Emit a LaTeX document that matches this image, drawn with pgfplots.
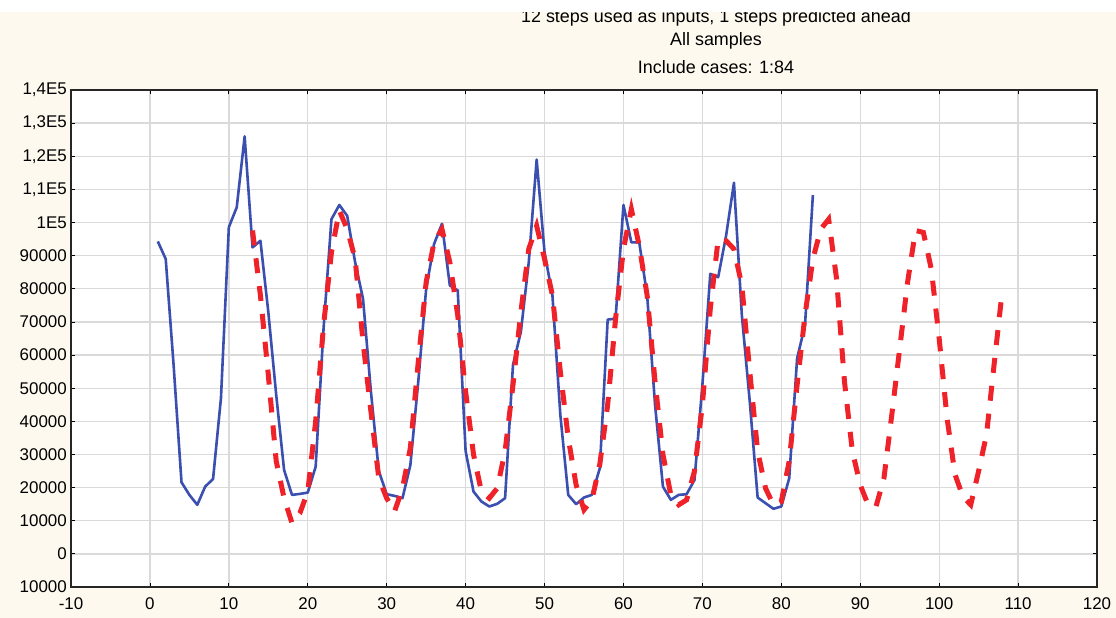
\documentclass[border=0pt]{standalone}
\usepackage{pgfplots}
\pgfplotsset{compat=1.18}
\usepackage{fontspec}
\setmainfont{Liberation Sans}
\definecolor{cream}{HTML}{FEF9EE}
\definecolor{blueline}{HTML}{3A4FAF}
\definecolor{redline}{HTML}{EE2228}
\definecolor{gridc}{HTML}{DADADA}
\pgfplotstableread{
x y
1 94300
2 89000
3 57000
4 21600
5 17800
6 14800
7 20300
8 22600
9 47000
10 98600
11 104600
12 126000
13 92500
14 94500
15 73000
16 48000
17 25300
18 17800
19 18100
20 18500
21 26300
22 68000
23 101000
24 105300
25 102000
26 88000
27 77000
28 49000
29 25000
30 18000
31 17500
32 16800
33 26800
34 52000
35 80000
36 93500
37 99600
38 81000
39 79500
40 31000
41 18800
42 15800
43 14300
44 15100
45 16800
46 57000
47 67000
48 88000
49 119000
50 91000
51 78000
52 42000
53 17800
54 15000
55 17000
56 17800
57 25800
58 70700
59 71000
60 105300
61 94000
62 94000
63 78000
64 45000
65 20300
66 16300
67 17800
68 18000
69 22300
70 51000
71 84500
72 83500
73 96000
74 112000
75 72000
76 46000
77 17000
78 15300
79 13600
80 14300
81 22800
82 59000
83 69000
84 108300
}\observed
\pgfplotstableread{
x y
13 97600
14 78000
15 54000
16 28000
17 16800
18 9300
19 12300
20 18800
21 40000
22 69000
23 91000
24 103600
25 98000
26 89000
27 64000
28 43000
29 22800
30 16800
31 12800
32 19800
33 32000
34 58000
35 82000
36 94000
37 98000
38 88000
39 72000
40 49000
41 30000
42 18800
43 16800
44 19800
45 31000
46 51000
47 73000
48 92000
49 99000
50 89000
51 78000
52 55000
53 35000
54 20800
55 13300
56 16300
57 27000
58 45000
59 71000
60 92000
61 104000
62 93000
63 78000
64 52000
65 30000
66 17800
67 14800
68 16300
69 25000
70 45000
71 74000
72 95000
73 94500
74 92000
75 81000
76 55000
77 31000
78 19800
79 14800
80 15800
81 28000
82 51000
83 72000
84 89000
85 98000
86 101000
87 83000
88 52000
89 31000
90 20800
91 14800
92 14300
93 22800
94 42000
95 62000
96 82000
97 97600
98 97000
99 86000
100 65000
101 41000
102 24000
103 17300
104 14800
105 25000
106 36000
107 58000
108 79500
}\predicted
\begin{document}
\begin{tikzpicture}[x=1bp,y=1bp]
\useasboundingbox (0,0) rectangle (1116,618);
\fill[cream] (0,0) rectangle (1116,618);
\begin{scope}[every node/.style={font=\fontsize{18}{20}\selectfont, inner sep=0pt}]
\node at (716,600) {12 steps used as inputs, 1 steps predicted ahead};
\node at (716,577) {All samples};
\node at (716,551) {Include cases: 1:84};
\end{scope}
\fill[white] (0,606) rectangle (1116,618);
\begin{axis}[
  at={(71bp,31bp)}, anchor=south west,
  scale only axis, width=1026bp, height=497bp,
  xmin=-10, xmax=120, ymin=-10000, ymax=140000,
  axis background/.style={fill=white},
  xtick={-10,0,...,120},
  xticklabels={-10,0,10,20,30,40,50,60,70,80,90,100,110,120},
  ytick={-10000,0,10000,20000,30000,40000,50000,60000,70000,80000,90000,100000,110000,120000,130000,140000},
  yticklabels={10000,0,10000,20000,30000,40000,50000,60000,70000,80000,90000,1E5,{1,1E5},{1,2E5},{1,3E5},{1,4E5}},
  scaled ticks=false,
  grid=major,
  major grid style={gridc, line width=1.3bp},
  tick align=inside,
  major tick length=4bp,
  tick style={black, line width=0.8bp},
  axis line style={black!85, line width=1.1bp},
  xticklabel style={font=\fontsize{17}{19}\selectfont, inner sep=0pt, yshift=-10bp},
  yticklabel style={font=\fontsize{17}{19}\selectfont, inner sep=0pt, xshift=-4bp},
  clip=true,
]
\addplot[blueline, line width=2.6bp, line join=round] table[x=x,y=y] {\observed};
\addplot[redline, line width=5bp, dash pattern=on 15bp off 13bp] table[x=x,y=y] {\predicted};
\end{axis}
\end{tikzpicture}
\end{document}
